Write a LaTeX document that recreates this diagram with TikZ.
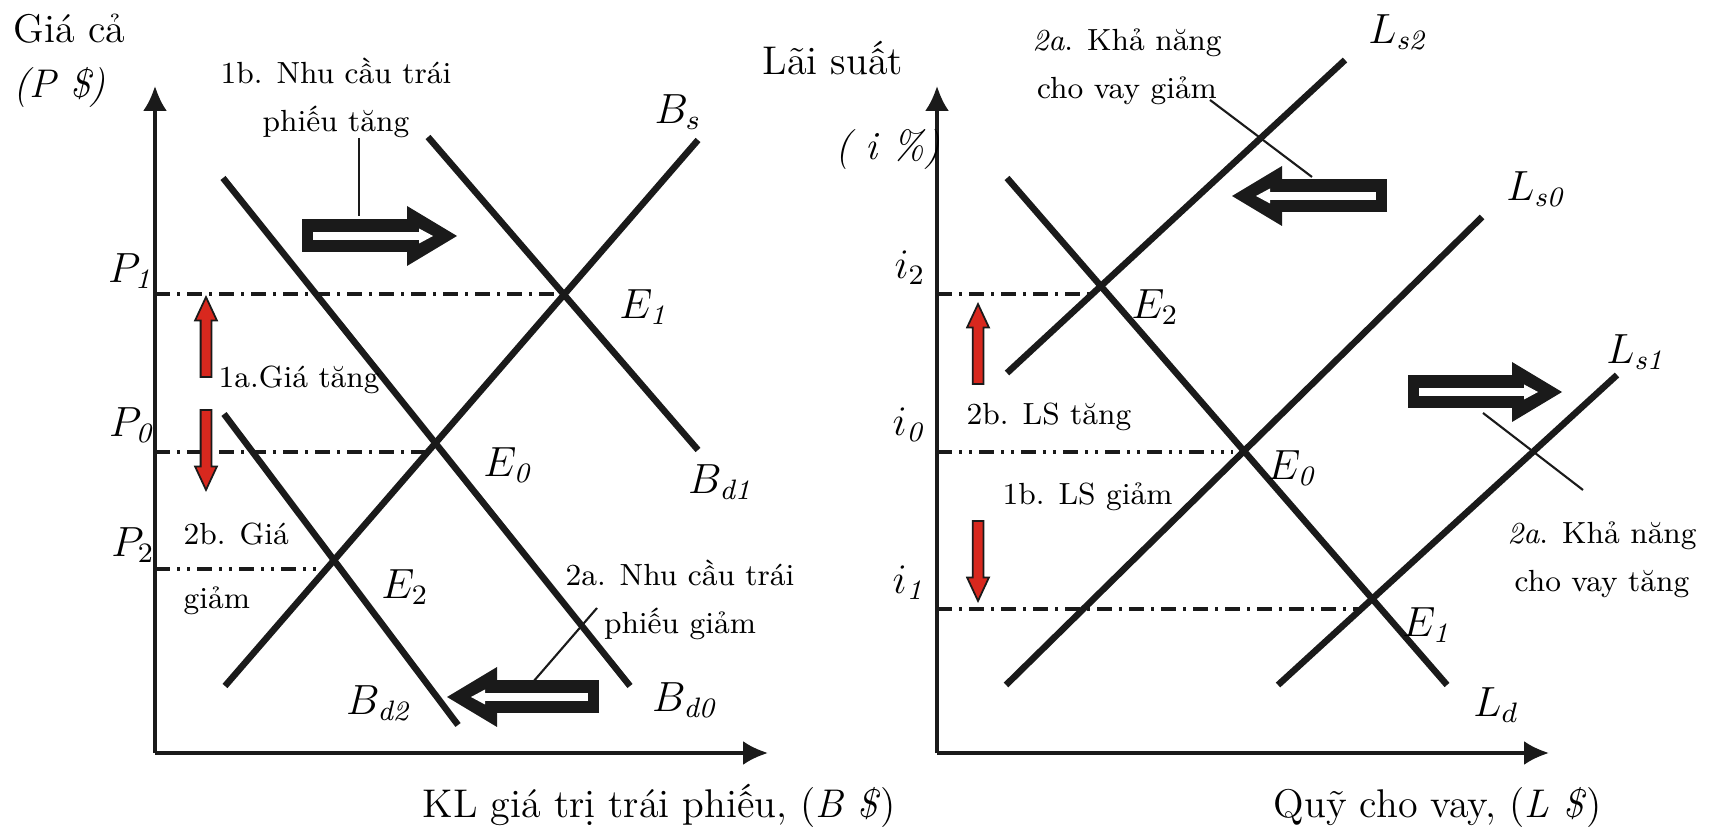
\documentclass[tikz,border=0pt]{standalone}
\usepackage{tikz}
\usetikzlibrary{arrows.meta,positioning,calc,shapes.arrows}
\usepackage{xcolor}
\definecolor{ink}{HTML}{1A1A1A}
\definecolor{upred}{HTML}{D8281E}
\tikzset{
  axis/.style={draw=ink, line width=1pt, -{Latex[length=2.5mm, width=2.4mm]}},
  curve/.style={draw=ink, line width=1.85pt},
  guide/.style={draw=ink, line width=1pt, dash pattern=on 1.5mm off 0.7mm on 0.3mm off 0.7mm},
  guidetwo/.style={draw=ink, line width=1pt, dash pattern=on 1.5mm off 0.7mm on 0.3mm off 0.7mm on 0.3mm off 0.7mm},
  leader/.style={draw=ink, line width=0.6pt},
  shiftarrow/.style={draw=ink, line width=3.3mm, -{Triangle[length=5mm, width=6mm, line width=0pt]}},
  shiftinner/.style={draw=white, line width=0.75mm, -{Triangle[length=1.4mm, width=1.5mm, line width=0pt]}},
  redarrow/.style={single arrow, draw=ink, fill=upred, line width=0.5pt, inner sep=0.45mm, minimum height=8mm, minimum width=2mm, single arrow head extend=0.55mm, single arrow tip angle=50, anchor=tip},
  axistext/.style={font=\fontsize{11.4}{13}\selectfont, inner sep=0},
  note/.style={font=\fontsize{8.7}{13.7}\selectfont, inner sep=0, align=center},
  sym/.style={font=\fontsize{12}{14}\selectfont, inner sep=0}
}

\begin{document}
\begin{tikzpicture}
  \useasboundingbox (0,0) rectangle (17.1,8.26);

  % bond market
  \coordinate (oL) at (1.55,0.73);
  \coordinate (yL) at (1.55,7.40);
  \coordinate (xL) at (7.68,0.73);
  \coordinate (bsA) at (2.25,1.40);  \coordinate (bsB) at (6.98,6.86);
  \coordinate (bdzA) at (2.23,6.48); \coordinate (bdzB) at (6.30,1.40);
  \coordinate (bdoA) at (4.28,6.89); \coordinate (bdoB) at (6.98,3.76);
  \coordinate (bdtA) at (2.24,4.12); \coordinate (bdtB) at (4.58,1.01);
  \coordinate (gLo) at (5.62,5.32);
  \coordinate (gLz) at (4.25,3.74);
  \coordinate (gLt) at (3.17,2.57);

  \draw[guide] (gLo -| oL) -- (gLo);
  \draw[guide] (gLz -| oL) -- (gLz);
  \draw[guidetwo] (gLt -| oL) -- (gLt);
  \draw[axis] (oL) -- (yL);
  \draw[axis] (oL) -- (xL);
  \draw[curve] (bsA) -- (bsB);
  \draw[curve] (bdzA) -- (bdzB);
  \draw[curve] (bdoA) -- (bdoB);
  \draw[curve] (bdtA) -- (bdtB);

  \node[axistext, anchor=base west] (giaca) at (0.13,7.83) {Giá cả};
  \node[axistext, anchor=base west] (giacaunit) at (0.13,7.28) {\textit{(P \$)}};
  \node[axistext, anchor=base west] (bqty) at (4.22,0.09) {KL giá trị trái phiếu, (\textit{B \$})};
  \node[sym] (pone) at (1.32,5.55) {$P_{\mathit{1}}$};
  \node[sym] (pzero) at (1.33,4.01) {$P_{\mathit{0}}$};
  \node[sym] (ptwo) at (1.33,2.81) {$P_2$};
  \node[sym] (elone) at (6.45,5.19) {$E_{\mathit{1}}$};
  \node[sym] (elzero) at (5.09,3.61) {$E_{\mathit{0}}$};
  \node[sym] (eltwo) at (4.05,2.39) {$E_2$};
  \node[sym] (bslab) at (6.78,7.14) {$B_s$};
  \node[sym] (bdone) at (7.22,3.44) {$B_{\mathit{d1}}$};
  \node[sym] (bdzero) at (6.86,1.26) {$B_{\mathit{d0}}$};
  \node[sym] (bdtwo) at (3.80,1.23) {$B_{\mathit{d2}}$};

  \node[note] (dup) at (3.36,7.28) {1b. Nhu cầu trái\\phiếu tăng};
  \node[note] (ddown) at (6.80,2.26) {2a. Nhu cầu trái\\phiếu giảm};
  \node[note, anchor=base west] (pup) at (2.18,4.38) {1a.Giá tăng};
  \node[note, align=left, anchor=west] (pdown) at (1.83,2.57) {2b. Giá\\[1.6mm]giảm};

  \node[redarrow, rotate=90] (rLup) at (2.06,5.31) {};
  \node[redarrow, rotate=-90] (rLdown) at (2.06,3.34) {};

  \coordinate (sOneA) at (3.02,5.90); \coordinate (sOneB) at (4.57,5.90);
  \coordinate (sTwoA) at (5.99,1.29); \coordinate (sTwoB) at (4.47,1.29);
  \coordinate (kOneA) at (3.59,6.88); \coordinate (kOneB) at (3.59,6.10);
  \coordinate (kTwoA) at (5.97,2.18); \coordinate (kTwoB) at (5.33,1.44);

  % loanable funds
  \coordinate (oR) at (9.37,0.73);
  \coordinate (yR) at (9.37,7.40);
  \coordinate (xR) at (15.49,0.73);
  \coordinate (ldA) at (10.07,6.48);  \coordinate (ldB) at (14.47,1.41);
  \coordinate (lszA) at (10.06,1.41); \coordinate (lszB) at (14.82,6.09);
  \coordinate (lsoA) at (12.78,1.41); \coordinate (lsoB) at (16.17,4.51);
  \coordinate (lstA) at (10.07,4.53); \coordinate (lstB) at (13.45,7.66);
  \coordinate (gRt) at (10.93,5.32);
  \coordinate (gRz) at (12.33,3.74);
  \coordinate (gRo) at (13.60,2.17);

  \draw[guide] (gRt -| oR) -- (gRt);
  \draw[guidetwo] (gRz -| oR) -- (gRz);
  \draw[guide] (gRo -| oR) -- (gRo);
  \draw[axis] (oR) -- (yR);
  \draw[axis] (oR) -- (xR);
  \draw[curve] (ldA) -- (ldB);
  \draw[curve] (lszA) -- (lszB);
  \draw[curve] (lsoA) -- (lsoB);
  \draw[curve] (lstA) -- (lstB);

  \node[axistext, anchor=base west] (laisuat) at (7.62,7.51) {Lãi suất};
  \node[axistext] (laiunit) at (8.88,6.76) {\textit{( i \%)}};
  \node[axistext, anchor=base west] (lqty) at (12.73,0.09) {Quỹ cho vay, (\textit{L \$})};
  \node[sym] (itwo) at (9.10,5.58) {$i_2$};
  \node[sym] (izero) at (9.10,4.01) {$i_{\mathit{0}}$};
  \node[sym] (ione) at (9.10,2.43) {$i_{\mathit{1}}$};
  \node[sym] (ertwo) at (11.55,5.19) {$E_2$};
  \node[sym] (erzero) at (12.93,3.58) {$E_{\mathit{0}}$};
  \node[sym] (erone) at (14.28,2.01) {$E_{\mathit{1}}$};
  \node[sym] (ldlab) at (14.96,1.21) {$L_d$};
  \node[sym] (lsone) at (16.37,4.74) {$L_{\mathit{s1}}$};
  \node[sym] (lszero) at (15.37,6.37) {$L_{\mathit{s0}}$};
  \node[sym] (lstwo) at (13.99,7.94) {$L_{\mathit{s2}}$};

  \node[note, anchor=base west] (iup) at (9.66,4.01) {2b. LS tăng};
  \node[note, anchor=base west] (idown) at (10.02,3.21) {1b. LS giảm};
  \node[note] (lless) at (11.27,7.59) {\textit{2a}. Khả năng\\cho vay giảm};
  \node[note] (lmore) at (16.02,2.66) {\textit{2a}. Khả năng\\cho vay tăng};

  \node[redarrow, rotate=90] (rRup) at (9.78,5.24) {};
  \node[redarrow, rotate=-90] (rRdown) at (9.78,2.23) {};

  \coordinate (sThreeA) at (13.87,6.30); \coordinate (sThreeB) at (12.32,6.30);
  \coordinate (sFourA) at (14.08,4.34);  \coordinate (sFourB) at (15.62,4.34);
  \coordinate (kThreeA) at (12.10,7.26); \coordinate (kThreeB) at (13.12,6.49);
  \coordinate (kFourA) at (14.83,4.13);  \coordinate (kFourB) at (15.83,3.36);

  \foreach \a/\b in {sOneA/sOneB, sTwoA/sTwoB, sThreeA/sThreeB, sFourA/sFourB} {
    \draw[shiftarrow] (\a) -- (\b);
    \draw[shiftinner] ($(\a)!1.1mm!(\b)$) -- ($(\b)!2.4mm!(\a)$);
  }
  \foreach \a/\b in {kOneA/kOneB, kTwoA/kTwoB, kThreeA/kThreeB, kFourA/kFourB}
    \draw[leader] (\a) -- (\b);
\end{tikzpicture}
\end{document}
